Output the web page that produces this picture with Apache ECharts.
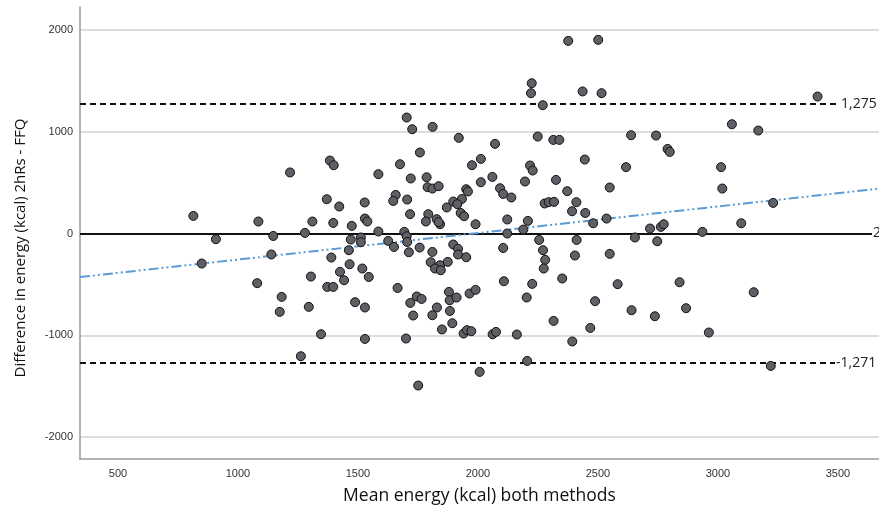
<!DOCTYPE html>
<html>
<head>
<meta charset="utf-8">
<script src="https://cdn.jsdelivr.net/npm/echarts@6/dist/echarts.min.js"></script>
<style>
html,body{margin:0;padding:0;background:#fff;}
#chart{width:879px;height:512px;}
</style>
</head>
<body>
<div id="chart"></div>
<script>
// Mean energy (kcal) of both methods (x) and difference 2hRs - FFQ (y)
var meanEnergy = [
  814,1085,908,1147,849,1139,1080,1182,1174,1217,1383,1399,1585,1370,1422,1528,1279,1310,1397,1474,1529,1539,1470,1512,1512,1585,1626,1462,1389,1465,1425,1518,1545,1442,1304,1372,1397,1488,1529,1295,1346,1529,1262,
  2376,2501,2224,2221,2270,2436,2515,1703,1726,1811,1920,2071,2249,2314,2339,1758,1675,2012,1975,2217,2228,2445,1720,1786,1790,1810,1836,2060,2012,1951,1958,2092,2105,2139,2196,2325,2372,1657,1647,1705,1933,1897,1914,1870,2278,2295,2317,2410,
  1717,1793,1783,1828,1842,1928,1942,1990,2122,2208,2392,2447,2480,1693,1703,1705,1650,2122,2189,1757,1712,1810,1897,1917,1917,1951,2105,2255,2271,2280,2274,2411,2404,1803,1842,1874,1821,1845,1665,1718,1745,1765,1730,1829,1810,1879,1882,1911,1965,1990,1883,1893,1850,1940,1954,1972,2061,2075,2162,2108,2226,2203,2351,2488,2315,2468,2393,1700,2205,2007,1751,1836,
  2638,2742,2790,2799,2617,2549,3013,3018,3058,3168,3415,3230,2536,2654,2717,2762,2774,2747,2935,3097,2549,2582,2840,3149,2640,2737,2867,2962,3220
];
var diffEnergy = [
  173,118,-56,-24,-295,-206,-488,-623,-770,600,717,671,583,337,265,305,6,118,104,75,147,118,-59,-39,-86,20,-73,-164,-236,-302,-377,-344,-427,-459,-423,-525,-525,-675,-727,-721,-990,-1036,-1206,
  1893,1903,1477,1379,1261,1396,1379,1140,1025,1048,940,881,953,920,920,796,681,733,671,668,619,727,541,553,455,442,465,556,504,435,413,445,389,354,511,527,416,379,320,334,340,314,288,256,295,308,311,308,
  190,190,118,141,91,202,170,91,138,124,219,202,101,16,-27,-83,-132,0,39,-138,-184,-181,-108,-151,-206,-233,-142,-63,-164,-259,-344,-63,-216,-282,-312,-279,-344,-361,-535,-682,-619,-643,-806,-727,-803,-574,-656,-629,-590,-554,-761,-882,-943,-983,-950,-960,-990,-967,-993,-469,-495,-629,-442,-665,-859,-928,-1061,-1032,-1252,-1360,-1494,111,
  966,963,831,802,652,452,652,442,1074,1012,1346,301,147,-39,49,65,91,-76,16,101,-200,-498,-479,-577,-754,-813,-734,-973,-1301
];
// Reference lines: upper limit, mean difference, lower limit
var limitValues = [1275, 2, -1271];
var limitLabels = ['1,275', '2', '-1,271'];
// Fitted regression line end points
var regressionX = [341.7, 3671];
var regressionY = [-428, 441];
// Axis extents
var xRange = [341.7, 3671];
var yRange = [-2216, 2226];
var xTitle = 'Mean energy (kcal) both methods';
var yTitle = 'Difference in energy (kcal) 2hRs - FFQ';

var points = meanEnergy.map(function (x, i) { return [x, diffEnergy[i]]; });
var regLine = regressionX.map(function (x, i) { return [x, regressionY[i]]; });

var lineStyles = [
  {type: [6, 4], color: '#111', width: 2},
  {type: 'solid', color: '#111', width: 2},
  {type: [6, 4], color: '#111', width: 2}
];
var labelOffsets = [-44, -12, -49];
var plain = function (v) { return String(v); };

var chart = echarts.init(document.getElementById('chart'), null, {renderer: 'canvas'});
chart.setOption({
  animation: false,
  backgroundColor: '#fff',
  grid: {left: 80, right: 0, top: 7, bottom: 53, containLabel: false},
  xAxis: {
    type: 'value', min: xRange[0], max: xRange[1],
    name: xTitle, nameLocation: 'middle', nameGap: 28,
    nameTextStyle: {fontFamily: 'Open Sans', fontSize: 17.5, color: '#111'},
    axisLine: {show: true, onZero: false, lineStyle: {color: '#9a9a9a', width: 1.5}},
    axisTick: {show: false},
    axisLabel: {showMinLabel: false, showMaxLabel: false, margin: 9, formatter: plain, fontFamily: 'Liberation Sans', fontSize: 11, color: '#333'},
    splitLine: {show: false}
  },
  yAxis: {
    type: 'value', min: yRange[0], max: yRange[1],
    name: yTitle, nameLocation: 'middle', nameGap: 52,
    nameTextStyle: {fontFamily: 'Open Sans', fontSize: 15, color: '#111', padding: [0, 30, 0, 0]},
    axisLine: {show: true, onZero: false, lineStyle: {color: '#9a9a9a', width: 1.5}},
    axisTick: {show: false},
    axisLabel: {showMinLabel: false, showMaxLabel: false, margin: 7, formatter: plain, fontFamily: 'Liberation Sans', fontSize: 11, color: '#333'},
    splitLine: {show: true, showMinLine: false, showMaxLine: false, lineStyle: {color: '#d2d2d2', width: 1.5}}
  },
  series: [
    {
      type: 'line', data: regLine, symbol: 'none', z: 3,
      lineStyle: {color: '#5b9bd5', width: 2, type: [10, 3, 2, 3, 2, 3]},
      silent: true
    },
    {
      type: 'scatter', data: points, symbol: 'circle', symbolSize: 9, z: 4,
      itemStyle: {color: '#5f5f66', borderColor: '#111', borderWidth: 1, opacity: 1},
      markLine: {
        silent: true, symbol: 'none', animation: false, z: 2,
        data: limitValues.map(function (v, i) {
          return {
            yAxis: v,
            lineStyle: lineStyles[i],
            label: {
              show: true, position: 'end', formatter: limitLabels[i],
              offset: [labelOffsets[i], 0], distance: 5,
              fontFamily: 'Open Sans', fontSize: 14, color: '#222',
              backgroundColor: '#fff', padding: [0, 1, 0, 1]
            }
          };
        })
      }
    }
  ]
});
</script>
</body>
</html>
